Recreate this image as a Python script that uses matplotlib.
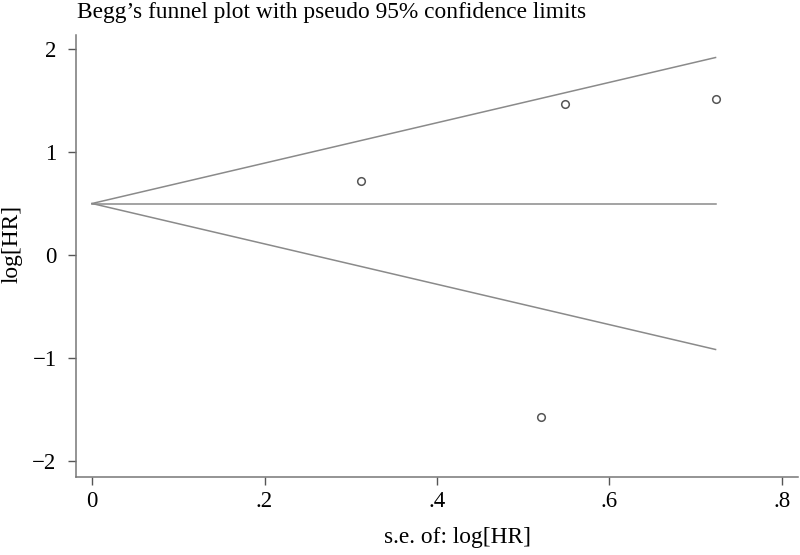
import numpy as np
import matplotlib
matplotlib.use("Agg")
import matplotlib.pyplot as plt

# study data: standard error and log hazard ratio
se = [0.312, 0.521, 0.548, 0.723]
log_hr = [0.72, -1.57, 1.47, 1.51]
pooled = 0.50

plt.rcParams["font.family"] = ["Liberation Serif", "DejaVu Serif"]

fig = plt.figure(figsize=(8, 5.55), dpi=100)
ax = fig.add_axes([0.095, 0.1405, 0.9025, 0.7965])

se_max = max(se)
s = np.array([0, se_max])
line_col = "#8a8a8a"
ax.plot(s, pooled + 1.96 * s, color=line_col, lw=1.1)
ax.plot(s, pooled - 1.96 * s, color=line_col, lw=1.1)
ax.plot(s, [pooled, pooled], color=line_col, lw=1.1)

ax.scatter(se, log_hr, s=30, facecolors="white", edgecolors="#555555", linewidths=1.1, zorder=3)

ax.set_xlim(-0.0186, 0.8186)
ax.set_ylim(-2.155, 2.136)
ax.set_xticks([0, 0.2, 0.4, 0.6, 0.8])
ax.set_xticklabels(["0", ".2", ".4", ".6", ".8"])
ax.set_yticks([-2, -1, 0, 1, 2])
ax.set_yticklabels(["\u22122", "\u22121", "0", "1", "2"])

for side in ["top", "right"]:
    ax.spines[side].set_visible(False)
for side in ["left", "bottom"]:
    ax.spines[side].set_color("#777777")
    ax.spines[side].set_linewidth(1.1)
ax.tick_params(direction="out", length=6, width=1, color="#555555", labelsize=16.5, pad=4)
ax.tick_params(axis="y", pad=8)

ax.set_xlabel("s.e. of: log[HR]", fontsize=16.8)
ax.xaxis.set_label_coords(0.529, -0.136)
ax.xaxis.label.set_va("center")
ax.set_ylabel("log[HR]", fontsize=16.8)
ax.yaxis.set_label_coords(-0.089, 0.527)
ax.yaxis.label.set_va("center")
fig.text(0.096, 0.977, "Begg\u2019s funnel plot with pseudo 95% confidence limits", fontsize=16.8, ha="left", va="center")

fig.savefig("out.png", dpi=100)
